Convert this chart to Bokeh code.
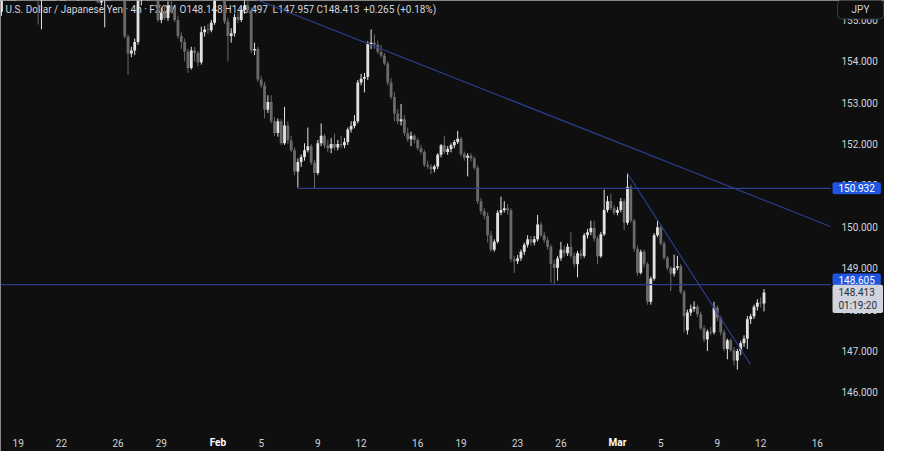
from bokeh.plotting import figure
from bokeh.models import Range1d, Label, ColumnDataSource
from bokeh.core.properties import value
from bokeh.embed import file_html
from bokeh.resources import INLINE

# ---------------- data (USD/JPY, 4h bars) ----------------
opens = [
    155.20, 155.60, 155.80, 155.95, 156.10, 156.25, 156.15, 156.05, 155.95, 155.85,
    155.70, 155.65, 155.55, 155.70, 155.90, 156.10, 156.25, 156.40, 156.30, 156.45,
    156.55, 156.40, 156.35, 156.20, 156.30, 156.15, 156.05, 155.95, 155.85, 155.70,
    155.42, 155.70, 155.80, 155.90, 155.85, 155.75, 155.65, 155.55, 154.60, 154.19,
    154.26, 154.47, 155.55, 155.70, 155.60, 155.75, 155.65, 155.55, 155.00, 155.17,
    155.05, 155.35, 155.20, 155.00, 154.61, 154.47, 154.23, 153.84, 154.26, 154.20,
    153.98, 154.70, 154.77, 154.75, 154.93, 155.60, 155.80, 155.60, 154.96, 154.61,
    154.68, 155.07, 155.00, 155.24, 155.35, 155.24, 154.26, 154.30, 153.56, 153.42,
    152.83, 153.02, 152.55, 152.27, 152.55, 152.02, 152.45, 152.09, 151.85, 151.34,
    151.57, 151.69, 151.85, 151.95, 151.55, 151.30, 152.02, 152.20, 151.97, 151.90,
    152.00, 151.92, 152.00, 151.97, 152.05, 152.35, 152.44, 152.55, 153.49, 153.58,
    153.62, 154.42, 154.45, 154.40, 154.23, 154.14, 153.95, 153.49, 153.14, 152.74,
    152.55, 152.60, 152.27, 152.12, 152.20, 152.10, 151.90, 151.81, 151.50, 151.46,
    151.39, 151.46, 151.74, 151.97, 151.81, 151.88, 151.97, 152.05, 152.13, 151.76,
    151.67, 151.72, 151.65, 151.43, 150.62, 150.38, 150.27, 149.80, 149.45, 149.64,
    150.34, 150.41, 150.45, 150.40, 149.22, 149.17, 149.24, 149.40, 149.57, 149.70,
    149.62, 149.70, 150.06, 149.80, 149.68, 149.52, 149.10, 149.01, 149.24, 149.45,
    149.36, 149.52, 149.30, 149.10, 149.36, 149.30, 149.80, 149.87, 149.97, 149.72,
    149.29, 149.82, 150.41, 150.62, 150.45, 150.34, 150.41, 150.62, 150.10, 150.97,
    150.15, 149.47, 148.89, 149.40, 149.10, 148.19, 148.75, 149.80, 149.99, 149.60,
    149.25, 149.01, 148.87, 149.01, 149.05, 148.42, 147.50, 147.93, 148.02, 148.07,
    147.89, 147.55, 147.28, 147.47, 147.45, 148.05, 147.80, 147.45, 147.05, 147.26,
    147.02, 146.77, 147.00, 147.19, 147.30, 147.77, 147.84, 148.07, 148.17, 148.148,
]
highs = [
    155.75, 155.90, 156.05, 156.20, 156.35, 156.40, 156.30, 156.20, 156.10, 156.00,
    155.90, 155.85, 155.80, 156.00, 156.20, 156.35, 156.50, 156.60, 156.55, 156.70,
    156.75, 156.60, 156.55, 156.45, 156.50, 156.35, 156.30, 156.20, 156.10, 155.90,
    155.85, 156.00, 156.05, 156.10, 156.00, 155.90, 155.80, 155.65, 154.65, 154.35,
    154.55, 155.60, 155.80, 155.90, 155.85, 155.95, 155.80, 155.65, 155.30, 155.35,
    155.45, 155.50, 155.30, 155.10, 154.70, 154.55, 154.30, 154.35, 154.35, 154.25,
    154.84, 154.85, 154.90, 155.00, 155.65, 155.88, 155.85, 155.70, 155.05, 154.80,
    155.15, 155.20, 155.30, 155.50, 155.55, 155.30, 154.45, 154.35, 153.65, 153.50,
    153.18, 153.18, 152.65, 152.62, 152.60, 152.90, 152.55, 152.20, 151.92, 151.65,
    151.75, 152.02, 152.40, 152.00, 151.62, 152.10, 152.50, 152.25, 152.10, 152.15,
    152.25, 152.10, 152.20, 152.15, 152.40, 152.55, 152.70, 153.55, 153.70, 153.72,
    154.48, 154.77, 154.65, 154.50, 154.40, 154.20, 154.00, 153.60, 153.25, 152.85,
    152.97, 152.70, 152.40, 152.30, 152.25, 152.15, 151.98, 151.86, 151.60, 151.52,
    151.50, 151.78, 152.00, 152.20, 151.95, 152.02, 152.10, 152.32, 152.18, 151.82,
    151.78, 151.78, 151.70, 151.48, 150.70, 150.45, 150.35, 149.90, 149.70, 150.40,
    150.73, 150.62, 150.55, 150.45, 149.30, 149.32, 149.45, 149.62, 149.80, 149.78,
    149.78, 150.29, 150.12, 149.88, 149.75, 149.58, 149.20, 149.30, 149.64, 149.55,
    149.60, 149.87, 149.38, 149.42, 149.45, 149.85, 149.95, 150.15, 150.15, 149.78,
    149.88, 150.90, 150.75, 150.80, 150.52, 150.48, 150.70, 150.68, 151.30, 151.02,
    150.20, 149.55, 149.45, 149.45, 149.15, 148.80, 149.85, 150.15, 150.05, 149.65,
    149.30, 149.05, 149.33, 149.30, 149.10, 148.48, 148.00, 148.12, 148.20, 148.12,
    147.95, 147.62, 147.52, 147.58, 148.19, 148.10, 147.85, 147.52, 147.30, 147.30,
    147.10, 147.05, 147.25, 147.38, 147.85, 147.90, 148.12, 148.25, 148.30, 148.497,
]
lows = [
    155.10, 155.55, 155.70, 155.85, 156.00, 156.05, 155.95, 155.85, 155.75, 155.60,
    155.55, 154.89, 154.77, 155.60, 155.80, 155.95, 156.10, 156.20, 156.15, 156.30,
    156.35, 156.20, 156.10, 156.05, 156.10, 155.95, 155.85, 155.75, 155.60, 155.40,
    155.35, 154.82, 155.65, 155.70, 155.65, 155.55, 155.50, 154.55, 153.67, 154.10,
    154.15, 154.40, 155.35, 155.50, 155.50, 155.55, 155.45, 154.95, 154.92, 155.00,
    154.98, 155.15, 154.95, 154.55, 154.30, 154.00, 153.72, 153.80, 154.00, 153.88,
    153.92, 154.60, 154.65, 154.70, 154.88, 155.50, 155.50, 154.90, 154.00, 154.45,
    154.60, 154.92, 154.95, 155.15, 155.18, 154.20, 154.15, 153.50, 153.35, 152.62,
    152.75, 152.50, 152.20, 152.18, 151.98, 151.98, 152.00, 151.80, 151.25, 150.95,
    151.45, 151.60, 151.80, 151.50, 150.93, 151.25, 151.95, 151.90, 151.80, 151.78,
    151.85, 151.85, 151.90, 151.90, 151.98, 152.28, 152.38, 152.50, 153.42, 153.25,
    153.55, 154.30, 154.30, 154.18, 154.08, 153.90, 153.42, 153.08, 152.55, 152.48,
    152.45, 152.20, 152.05, 151.95, 152.02, 151.85, 151.75, 151.45, 151.40, 151.28,
    151.32, 151.40, 151.68, 151.76, 151.74, 151.80, 151.90, 152.00, 151.70, 151.60,
    151.22, 151.58, 151.38, 150.55, 150.30, 150.18, 149.62, 149.40, 149.40, 149.60,
    150.28, 150.35, 150.30, 149.15, 148.89, 149.10, 149.18, 149.32, 149.50, 149.55,
    149.55, 149.65, 149.75, 149.62, 149.45, 148.65, 148.60, 148.70, 149.18, 149.28,
    149.30, 149.25, 149.02, 148.78, 149.22, 149.25, 149.72, 149.80, 149.65, 149.10,
    149.25, 149.78, 150.35, 150.40, 150.28, 150.28, 150.35, 149.92, 150.05, 150.10,
    149.40, 148.82, 148.85, 149.02, 148.12, 148.12, 148.70, 149.75, 149.55, 149.20,
    148.95, 148.45, 148.80, 148.95, 148.38, 147.45, 147.40, 147.85, 147.95, 147.82,
    147.50, 147.22, 147.00, 147.38, 147.40, 147.72, 147.38, 147.00, 146.80, 146.98,
    146.65, 146.55, 146.90, 147.10, 147.05, 147.65, 147.78, 147.98, 148.05, 147.957,
]
closes = [
    155.60, 155.80, 155.95, 156.10, 156.25, 156.15, 156.05, 155.95, 155.85, 155.70,
    155.65, 155.55, 155.70, 155.90, 156.10, 156.25, 156.40, 156.30, 156.45, 156.55,
    156.40, 156.35, 156.20, 156.30, 156.15, 156.05, 155.95, 155.85, 155.70, 155.42,
    155.70, 155.80, 155.90, 155.85, 155.75, 155.65, 155.55, 154.60, 154.19, 154.26,
    154.47, 155.55, 155.70, 155.60, 155.75, 155.65, 155.55, 155.00, 155.17, 155.05,
    155.35, 155.20, 155.00, 154.61, 154.47, 154.23, 153.84, 154.26, 154.20, 153.98,
    154.70, 154.77, 154.75, 154.93, 155.60, 155.80, 155.60, 154.96, 154.61, 154.68,
    155.07, 155.00, 155.24, 155.35, 155.24, 154.26, 154.30, 153.56, 153.42, 152.83,
    153.02, 152.55, 152.27, 152.55, 152.02, 152.45, 152.09, 151.85, 151.34, 151.57,
    151.69, 151.85, 151.95, 151.55, 151.30, 152.02, 152.20, 151.97, 151.90, 152.00,
    151.92, 152.00, 151.97, 152.05, 152.35, 152.44, 152.55, 153.49, 153.58, 153.62,
    154.42, 154.45, 154.40, 154.23, 154.14, 153.95, 153.49, 153.14, 152.74, 152.55,
    152.60, 152.27, 152.12, 152.20, 152.10, 151.90, 151.81, 151.50, 151.46, 151.39,
    151.46, 151.74, 151.97, 151.81, 151.88, 151.97, 152.05, 152.13, 151.76, 151.67,
    151.72, 151.65, 151.43, 150.62, 150.38, 150.27, 149.80, 149.45, 149.64, 150.34,
    150.41, 150.45, 150.40, 149.22, 149.17, 149.24, 149.40, 149.57, 149.70, 149.62,
    149.70, 150.06, 149.80, 149.68, 149.52, 149.10, 149.01, 149.24, 149.45, 149.36,
    149.52, 149.30, 149.10, 149.36, 149.30, 149.80, 149.87, 149.97, 149.72, 149.29,
    149.82, 150.41, 150.62, 150.45, 150.34, 150.41, 150.62, 150.10, 150.97, 150.15,
    149.47, 148.89, 149.40, 149.10, 148.19, 148.75, 149.80, 149.99, 149.60, 149.25,
    149.01, 148.87, 149.01, 149.05, 148.42, 147.84, 147.93, 148.02, 148.07, 147.89,
    147.55, 147.28, 147.47, 147.45, 148.05, 147.80, 147.45, 147.05, 147.26, 147.02,
    146.77, 147.00, 147.19, 147.30, 147.77, 147.84, 148.07, 148.17, 148.148, 148.413,
]

# date labels of the time axis (bar index -> label)
x_tick_pos = [5, 18, 35, 48, 65, 78, 95, 108, 125, 138, 155, 168, 185, 198, 215, 228, 245]
x_tick_labels = ["19", "22", "26", "29", "Feb", "5", "9", "12", "16", "19", "23", "26",
                 "Mar", "5", "9", "12", "16"]
y_ticks = [146, 147, 148, 149, 150, 151, 152, 153, 154, 155]

# drawings
trend_down_x = [65, 248.97]
trend_down_y = [155.86, 150.01]
trend_steep_x = [188.0, 224.9]
trend_steep_y = [151.29, 146.68]
level_upper = 150.932
level_upper_from = 89
level_lower = 148.605
last_price_text = "148.413\n01:19:20"
header_parts = ["U.S. Dollar / Japanese Yen · 4h · FXCM", "O148.148", "H148.497",
                "L147.957", "C148.413", "+0.265 (+0.18%)"]

# ---------------- styling ----------------
BG = "#0f0f0f"
UP = "#e2e2e2"
DOWN = "#6a6a6e"
LINE = "#2b3d8c"
BLUE = "#1f55e0"
TXT = "#d1d4dc"
FONT = "Roboto"

FIG_W, FIG_H = 884, 451
PANE_W, PANE_H = 830, 424          # price pane (rest is the scale strips)
PX0, PX1 = -0.3, 248.97            # bar-index extent of the price pane
PY0, PY1 = 145.225, 155.47         # price extent of the price pane
SX = (PX1 - PX0) / PANE_W
SY = (PY1 - PY0) / PANE_H


def dx(px):
    return PX0 + px * SX


def dy(py):
    return PY1 - py * SY


p = figure(width=FIG_W, height=FIG_H,
           x_range=Range1d(PX0, dx(FIG_W)), y_range=Range1d(dy(FIG_H), PY1),
           x_axis_type=None, y_axis_type=None, output_backend="svg", toolbar_location=None,
           background_fill_color=BG, border_fill_color=BG, outline_line_color=None,
           min_border=0, min_border_left=0, min_border_right=0, min_border_top=0, min_border_bottom=0)

# header (drawn first, candles overlap it as in the original)
header_px = [5, 179, 224, 272, 316, 363]
p.text(x=[dx(v) for v in header_px], y=[dy(9)] * len(header_parts), text=header_parts,
       text_font=value(FONT), text_font_size=value("10px"), text_color=TXT,
       text_align="left", text_baseline="middle")

N = len(closes)
xs = list(range(N))
body_bot = [min(o, c) for o, c in zip(opens, closes)]
body_top = [max(max(o, c), b + 0.012) for o, c, b in zip(opens, closes, body_bot)]
colors = [UP if c >= o else DOWN for o, c in zip(opens, closes)]
src = ColumnDataSource(dict(x=xs, high=highs, low=lows, top=body_top, bottom=body_bot, color=colors))

p.segment(x0="x", y0="low", x1="x", y1="high", line_color="color", line_width=1, source=src)
p.vbar(x="x", width=0.85, top="top", bottom="bottom", fill_color="color", line_color=None, source=src)

# drawings
p.line(trend_down_x, trend_down_y, line_color=LINE, line_width=1.2)
p.line(trend_steep_x, trend_steep_y, line_color=LINE, line_width=1.2)
p.line([level_upper_from, PX1], [level_upper, level_upper], line_color=LINE, line_width=1.2)
p.line([PX0, PX1], [level_lower, level_lower], line_color=LINE, line_width=1.2)

# price scale labels (right strip)
for t in y_ticks:
    p.add_layout(Label(x=dx(841), y=t, text="%.3f" % t, text_align="left", text_baseline="middle",
                       text_font=FONT, text_font_size="10px", text_color=TXT))

# time scale labels (bottom strip)
for pos, lab in zip(x_tick_pos, x_tick_labels):
    bold = lab in ("Feb", "Mar")
    p.add_layout(Label(x=pos, y=dy(442), text=lab, text_align="center", text_baseline="middle",
                       text_font=FONT, text_font_size="10px",
                       text_font_style="bold" if bold else "normal",
                       text_color="#ffffff" if bold else TXT))

# price boxes on the scale
p.add_layout(Label(x=dx(832), y=level_upper, text="%.3f" % level_upper, text_align="left",
                   text_baseline="middle", text_font=FONT, text_font_size="10px", text_color="#ffffff",
                   background_fill_color=BLUE, padding=(6, 2), border_radius=2))
p.add_layout(Label(x=dx(832), y=148.726, text="%.3f" % level_lower, text_align="left",
                   text_baseline="middle", text_font=FONT, text_font_size="10px", text_color="#ffffff",
                   background_fill_color=BLUE, padding=(6, 2), border_radius=2))
p.add_layout(Label(x=dx(832), y=148.26, text=last_price_text, text_align="left",
                   text_baseline="middle", text_font=FONT, text_font_size="10px", text_color="#2a2e39",
                   background_fill_color="#d1d4dc", padding=(6, 2), border_radius=2))

# currency button
p.add_layout(Label(x=dx(860), y=dy(9), text="JPY", text_align="center", text_baseline="middle",
                   text_font=FONT, text_font_size="10px", text_color=TXT,
                   background_fill_color=BG, border_line_color="#3a3d45", border_line_width=1,
                   padding=(14, 4), border_radius=4))

open("out.html", "w").write(file_html(p, INLINE, "USD/JPY 4h"))
